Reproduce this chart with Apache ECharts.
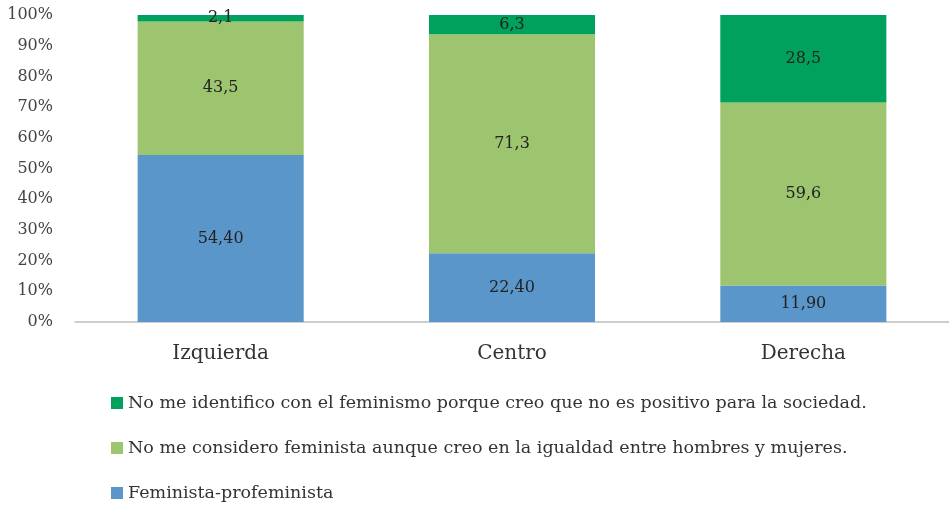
<!DOCTYPE html>
<html>
<head>
<meta charset="utf-8">
<script src="https://cdn.jsdelivr.net/npm/echarts@6/dist/echarts.min.js"></script>
<style>
html,body{margin:0;padding:0;background:#fff;}
#chart{width:949px;height:507px;}
</style>
</head>
<body>
<div id="chart"></div>
<script>
const categories = ['Izquierda', 'Centro', 'Derecha'];
const feministaValues = [54.40, 22.40, 11.90];
const igualdadValues = [43.5, 71.3, 59.6];
const noIdentificoValues = [2.1, 6.3, 28.5];
const seriesNames = [
  'No me identifico con el feminismo porque creo que no es positivo para la sociedad.',
  'No me considero feminista aunque creo en la igualdad entre hombres y mujeres.',
  'Feminista-profeminista'
];
const yTicks = [0, 10, 20, 30, 40, 50, 60, 70, 80, 90, 100];

const FONT = 'DejaVu Serif';
function fmt(dec) {
  return p => p.value.toFixed(dec).replace('.', ',');
}
const labelStyle = dec => ({
  show: true, position: 'inside', formatter: fmt(dec),
  fontFamily: FONT, fontSize: 16, color: '#222'
});

const chart = echarts.init(document.getElementById('chart'));
chart.setOption({
  animation: false,
  grid: { left: 75, top: 15, width: 881, height: 307, containLabel: false },
  legend: {
    orient: 'vertical', left: 111, top: 393, height: 114, padding: 0, itemGap: 25,
    icon: 'rect', itemWidth: 12, itemHeight: 12,
    data: seriesNames,
    textStyle: { fontFamily: FONT, fontSize: 17.5, lineHeight: 20, color: '#333' }
  },
  xAxis: {
    type: 'category', data: categories,
    axisLine: { lineStyle: { color: '#bdbdbd', width: 1.5 } },
    axisTick: { show: false },
    axisLabel: { fontFamily: FONT, fontSize: 20, color: '#333', margin: 22 }
  },
  yAxis: {
    type: 'value', min: 0, max: 100, interval: 10,
    axisLine: { show: false }, axisTick: { show: false },
    splitLine: { show: false },
    axisLabel: {
      fontFamily: FONT, fontSize: 16, color: '#444', margin: 22,
      formatter: v => yTicks.includes(v) ? v + '%' : ''
    }
  },
  series: [
    { name: seriesNames[2], type: 'bar', stack: 't', barWidth: '57%',
      data: feministaValues, itemStyle: { color: '#5A96C9' }, label: labelStyle(2) },
    { name: seriesNames[1], type: 'bar', stack: 't', barWidth: '57%',
      data: igualdadValues, itemStyle: { color: '#9DC46F' }, label: labelStyle(1) },
    { name: seriesNames[0], type: 'bar', stack: 't', barWidth: '57%',
      data: noIdentificoValues, itemStyle: { color: '#00A15C' }, label: labelStyle(1) }
  ]
});
</script>
</body>
</html>
